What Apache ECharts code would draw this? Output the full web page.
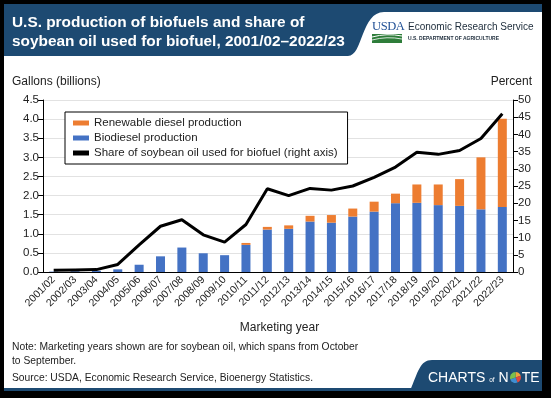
<!DOCTYPE html>
<html>
<head>
<meta charset="utf-8">
<script src="https://cdn.jsdelivr.net/npm/echarts@6/dist/echarts.min.js"></script>
<style>
    html, body { margin: 0; padding: 0; }
    body {
        width: 551px;
        height: 398px;
        background: #000;
        position: relative;
        overflow: hidden;
        font-family: 'Liberation Sans', Arial, sans-serif;
        color: #222;
    }
    .card {
        position: absolute;
        left: 4px; top: 4px;
        width: 538px; height: 387px;
        background: #fff;
    }
    #chart {
        position: absolute;
        left: 0; top: 0;
        width: 551px; height: 398px;
    }
    .deco { position: absolute; left: 0; top: 0; }
    .title {
        position: absolute;
        left: 12px; top: 12px;
        color: #fff;
        font-weight: bold;
        font-size: 15.4px;
        line-height: 19px;
        white-space: nowrap;
    }
    .ers {
        position: absolute;
        left: 408px; top: 21px;
        font-size: 10px;
        color: #1c2b3a;
        white-space: nowrap;
    }
    .ers small {
        display: block;
        font-size: 5px;
        font-weight: bold;
        margin-top: 3px;
    }
    .usda {
        position: absolute;
        left: 372px; top: 19px;
        font-family: 'Liberation Serif', 'DejaVu Serif', serif;
        font-size: 12.5px;
        color: #1f4f94;
        letter-spacing: -0.4px;
    }
    .axis-name { position: absolute; top: 74px; font-size: 12px; white-space: nowrap; }
    .note {
        position: absolute;
        left: 12px;
        font-size: 10.3px;
        line-height: 14px;
        white-space: nowrap;
    }
    .con {
        position: absolute;
        left: 428px; top: 369px;
        color: #fff;
        font-size: 14px;
        white-space: nowrap;
    }
    .con .of { font-size: 6.5px; }
    .con svg { vertical-align: -1px; margin: 0 1px; }
</style>
</head>
<body>
<div class="card"></div>
<svg class="deco" width="551" height="398">
    <!-- header band with white notch for the ERS logo -->
    <rect x="4" y="4" width="538" height="52" fill="#1d4a72"/>
    <path d="M348 56 C363 56 361 12 384 12 L542 12 L542 56 Z" fill="#fff"/>
    <!-- usda swoosh -->
    <rect x="372" y="34" width="30" height="9" fill="#2e7d3a"/>
    <path d="M372 37 Q387 33 402 36" stroke="#fff" stroke-width="1" fill="none"/>
    <path d="M372 40 Q387 36 402 39" stroke="#fff" stroke-width="0.8" fill="none"/>
    <!-- footer -->
    <rect x="4" y="388" width="538" height="3" fill="#1d4a72"/>
    <path d="M410 391 C418 372 420 360 432 360 L542 360 L542 391 Z" fill="#1d4a72"/>
</svg>
<div id="chart"></div>
<div class="title">U.S. production of biofuels and share of<br>soybean oil used for biofuel, 2001/02–2022/23</div>
<div class="usda">USDA</div>
<div class="ers">Economic Research Service<small>U.S. DEPARTMENT OF AGRICULTURE</small></div>
<div class="axis-name" style="left:12px">Gallons (billions)</div>
<div class="axis-name" style="right:19px">Percent</div>
<div class="axis-name" style="left:0;width:551px;text-align:center;top:320px;padding-left:4px">Marketing year</div>
<div class="note" style="top:340px">Note: Marketing years shown are for soybean oil, which spans from October<br>to September.</div>
<div class="note" style="top:371px">Source: USDA, Economic Research Service, Bioenergy Statistics.</div>
<div class="con">CHARTS <span class="of">of</span> N<svg width="11" height="11" viewBox="-5.5 -5.5 11 11">
        <path d="M0 0 L0 -5.5 A5.5 5.5 0 0 1 5.2 -1.7 Z" fill="#f2a33a"/>
        <path d="M0 0 L5.2 -1.7 A5.5 5.5 0 0 1 2 5.1 Z" fill="#e0483e"/>
        <path d="M0 0 L2 5.1 A5.5 5.5 0 0 1 -5.2 1.7 Z" fill="#3f8fd2"/>
        <path d="M0 0 L-5.2 1.7 A5.5 5.5 0 0 1 0 -5.5 Z" fill="#7cc04b"/>
    </svg>TE</div>

<script>
// marketing years (Oct–Sep)
const years = [
    '2001/02', '2002/03', '2003/04', '2004/05', '2005/06', '2006/07', '2007/08', '2008/09',
    '2009/10', '2010/11', '2011/12', '2012/13', '2013/14', '2014/15', '2015/16', '2016/17',
    '2017/18', '2018/19', '2019/20', '2020/21', '2021/22', '2022/23'
]

// billion gallons
const biodiesel = [
    0.01, 0.02, 0.03, 0.07, 0.19, 0.41, 0.64, 0.49, 0.44, 0.71, 1.11,
    1.13, 1.32, 1.29, 1.45, 1.58, 1.80, 1.81, 1.75, 1.73, 1.64, 1.70
]
const renewableDiesel = [
    0, 0, 0, 0, 0, 0, 0, 0, 0, 0.05, 0.07,
    0.09, 0.15, 0.20, 0.21, 0.26, 0.25, 0.48, 0.54, 0.70, 1.36, 2.31
]

// percent of soybean oil used for biofuel
const soyShare = [
    0.5, 0.6, 0.7, 2.2, 7.9, 13.3, 15.2, 10.8, 8.7, 13.8, 24.2,
    22.2, 24.3, 23.8, 25.0, 27.5, 30.5, 34.8, 34.2, 35.3, 38.8, 46.0
]

const leftTicks  = { min: 0, max: 4.5, interval: 0.5 }
const rightTicks = { min: 0, max: 50, interval: 5 }

const BLUE = '#4472c4'
const ORANGE = '#ed7d31'
const FONT = 'Liberation Sans, Arial, sans-serif'

const axisText = { color: '#222', fontSize: 11.5, fontFamily: FONT }

const chart = echarts.init(document.getElementById('chart'), null, { renderer: 'canvas' })

chart.setOption({
    animation: false,
    grid: { left: 43, right: 38, top: 100, bottom: 126 },
    legend: {
        orient: 'vertical',
        left: 65,
        top: 112,
        backgroundColor: '#fff',
        borderColor: '#000',
        borderWidth: 1,
        borderRadius: 0,
        padding: [5, 10, 5, 8],
        itemGap: 3,
        itemWidth: 16,
        itemHeight: 5,
        textStyle: { color: '#222', fontSize: 11.5, fontFamily: FONT },
        data: [
            { name: 'Renewable diesel production', icon: 'rect' },
            { name: 'Biodiesel production', icon: 'rect' },
            { name: 'Share of soybean oil used for biofuel (right axis)', icon: 'rect' },
        ],
    },
    xAxis: {
        type: 'category',
        data: years,
        axisLine: { lineStyle: { color: '#000', width: 1 } },
        axisTick: { alignWithLabel: true, length: 5, lineStyle: { color: '#000' } },
        axisLabel: { ...axisText, fontSize: 10.5, rotate: 45, interval: 0, margin: 6 },
    },
    yAxis: [
        {
            type: 'value',
            ...leftTicks,
            axisLine: { show: true, lineStyle: { color: '#000' } },
            axisTick: { show: true, length: 5, lineStyle: { color: '#000' } },
            axisLabel: { ...axisText, margin: 4, formatter: v => v.toFixed(1) },
            splitLine: { lineStyle: { color: '#e2e2e2', width: 1 } },
        },
        {
            type: 'value',
            position: 'right',
            ...rightTicks,
            axisLine: { show: true, lineStyle: { color: '#000' } },
            axisTick: { show: true, length: 5, lineStyle: { color: '#000' } },
            axisLabel: { ...axisText, margin: 5 },
            splitLine: { show: false },
        },
    ],
    series: [
        {
            name: 'Biodiesel production',
            type: 'bar',
            stack: 'fuel',
            data: biodiesel,
            barWidth: 9,
            itemStyle: { color: BLUE },
        },
        {
            name: 'Renewable diesel production',
            type: 'bar',
            stack: 'fuel',
            data: renewableDiesel,
            barWidth: 9,
            itemStyle: { color: ORANGE },
        },
        {
            name: 'Share of soybean oil used for biofuel (right axis)',
            type: 'line',
            yAxisIndex: 1,
            data: soyShare,
            symbol: 'none',
            z: 5,
            lineStyle: { color: '#000', width: 3 },
            itemStyle: { color: '#000' },
        },
    ],
})
</script>
</body>
</html>
